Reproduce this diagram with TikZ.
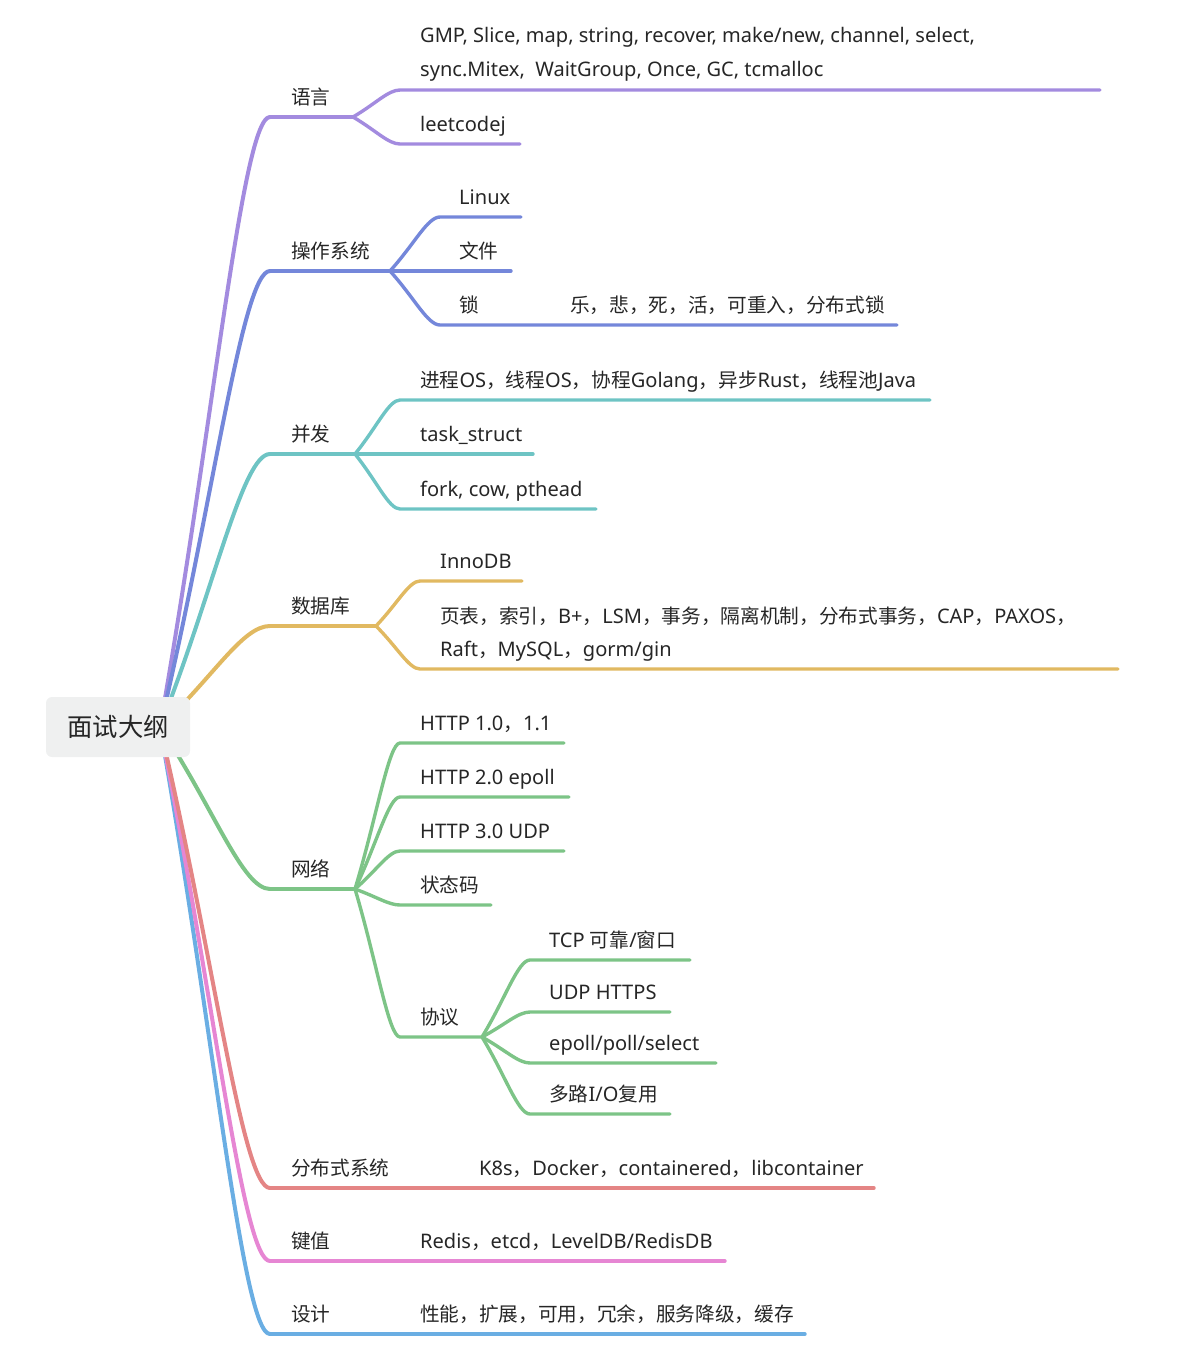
\documentclass[tikz,border=0pt]{standalone}
\usepackage{fontspec}
\setmainfont{Noto Sans}[Scale=1.055]
\newfontfamily\cjkf{Noto Sans CJK SC}[Scale=1.035]
\newfontfamily\latf{Noto Sans}[Scale=1.055]
\XeTeXinterchartokenstate=1
\newXeTeXintercharclass\cjkcls
\count255="3000
\loop
  \XeTeXcharclass\count255=\cjkcls
  \advance\count255 by 1
\ifnum\count255<"A000 \repeat
\count255="FF00
\loop
  \XeTeXcharclass\count255=\cjkcls
  \advance\count255 by 1
\ifnum\count255<"FF60 \repeat
\XeTeXinterchartoks 0 \cjkcls = {\cjkf}
\XeTeXinterchartoks 4095 \cjkcls = {\cjkf}
\XeTeXinterchartoks \cjkcls 0 = {\latf}
\usetikzlibrary{calc}
\pgfdeclarelayer{bg}
\pgfsetlayers{bg,main}
\definecolor{textc}{HTML}{262626}
\definecolor{rootfill}{HTML}{EFF0F0}
\definecolor{cpurple}{HTML}{A38BDF}
\definecolor{cblue}{HTML}{7487DA}
\definecolor{cteal}{HTML}{6EC4C4}
\definecolor{cyellow}{HTML}{E1B961}
\definecolor{cgreen}{HTML}{7DC487}
\definecolor{cred}{HTML}{E48585}
\definecolor{cpink}{HTML}{E686D3}
\definecolor{clblue}{HTML}{6AAEE3}
\tikzset{
  mmcurve/.style={to path={let \p1=(\tikztostart), \p2=(\tikztotarget) in
    .. controls ({\x1+0.49*(\x2-\x1)},{\y1+0.5*(\y2-\y1)}) and ({\x2-0.25*(\x2-\x1)},\y2) .. (\tikztotarget)}},
  branch/.style={line width=3.4pt, line cap=round, line join=round},
  rootlink/.style={line width=4pt, line cap=round, line join=round},
  txt/.style={anchor=base west, inner sep=0pt, text=textc, font=\fontsize{19}{22}\selectfont},
  rootbox/.style={fill=rootfill, rounded corners=6pt, minimum width=144pt, minimum height=60pt, inner sep=0pt, text=textc, font=\fontsize{24.5}{28}\selectfont}
}
\begin{document}
\begin{tikzpicture}[x=1pt,y=-1pt]
\useasboundingbox (0,0) rectangle (1182,1354);
\node[rootbox] (root) at (118,727) {面试大纲};
\coordinate (o) at (160,727);

% level 1 coordinates
\coordinate (L1) at (270,117);  \coordinate (F1) at (353,117);
\coordinate (L2) at (270,271);  \coordinate (F2) at (390,271);
\coordinate (L3) at (270,454);  \coordinate (F3) at (355,454);
\coordinate (L4) at (270,626);  \coordinate (F4) at (376,626);
\coordinate (L5) at (270,889);  \coordinate (F5) at (355,889);
\coordinate (L6) at (270,1188); \coordinate (E6) at (874,1188);
\coordinate (L7) at (270,1261); \coordinate (E7) at (725,1261);
\coordinate (L8) at (270,1334); \coordinate (E8) at (805,1334);

% level 2 coordinates
\coordinate (C11) at (400,90);   \coordinate (E11) at (1100,90);
\coordinate (C12) at (400,144);  \coordinate (E12) at (520,144);
\coordinate (C21) at (440,217);  \coordinate (E21) at (521,217);
\coordinate (E22) at (511,271);
\coordinate (C23) at (440,325);  \coordinate (E23) at (897,325);
\coordinate (C31) at (400,400);  \coordinate (E31) at (930,400);
\coordinate (E32) at (533,454);
\coordinate (C33) at (400,509);  \coordinate (E33) at (596,509);
\coordinate (C41) at (420,581);  \coordinate (E41) at (522,581);
\coordinate (C42) at (420,669);  \coordinate (E42) at (1118,669);
\coordinate (C51) at (400,743);  \coordinate (E51) at (564,743);
\coordinate (C52) at (400,797);  \coordinate (E52) at (569,797);
\coordinate (C53) at (400,851);  \coordinate (E53) at (564,851);
\coordinate (C54) at (400,905);  \coordinate (E54) at (491,905);
\coordinate (C55) at (400,1037); \coordinate (F55) at (482,1037);
\coordinate (C551) at (530,960);  \coordinate (E551) at (690,960);
\coordinate (C552) at (530,1012); \coordinate (E552) at (670,1012);
\coordinate (C553) at (530,1063); \coordinate (E553) at (716,1063);
\coordinate (C554) at (530,1114); \coordinate (E554) at (670,1114);

\begin{pgfonlayer}{bg}
% root links
\draw[rootlink, cpurple] (o) to[mmcurve] (L1);
\draw[rootlink, cblue] (o) to[mmcurve] (L2);
\draw[rootlink, cteal] (o) to[mmcurve] (L3);
\draw[rootlink, cyellow] (o) to[mmcurve] (L4);
\draw[rootlink, cgreen] (o) to[mmcurve] (L5);
\draw[rootlink, clblue] (o) to[mmcurve] (L8);
\draw[rootlink, cpink] (o) to[mmcurve] (L7);
\draw[rootlink, cred] (o) to[mmcurve] (L6);
\end{pgfonlayer}

% 语言
\draw[branch, cpurple] (L1) -- (F1);
\draw[branch, cpurple] (F1) to[mmcurve] (C11) -- (E11);
\draw[branch, cpurple] (F1) to[mmcurve] (C12) -- (E12);
% 操作系统
\draw[branch, cblue] (L2) -- (F2) -- (E22);
\draw[branch, cblue] (F2) to[mmcurve] (C21) -- (E21);
\draw[branch, cblue] (F2) to[mmcurve] (C23) -- (E23);
% 并发
\draw[branch, cteal] (L3) -- (F3) -- (E32);
\draw[branch, cteal] (F3) to[mmcurve] (C31) -- (E31);
\draw[branch, cteal] (F3) to[mmcurve] (C33) -- (E33);
% 数据库
\draw[branch, cyellow] (L4) -- (F4);
\draw[branch, cyellow] (F4) to[mmcurve] (C41) -- (E41);
\draw[branch, cyellow] (F4) to[mmcurve] (C42) -- (E42);
% 网络
\draw[branch, cgreen] (L5) -- (F5);
\draw[branch, cgreen] (F5) to[mmcurve] (C51) -- (E51);
\draw[branch, cgreen] (F5) to[mmcurve] (C52) -- (E52);
\draw[branch, cgreen] (F5) to[mmcurve] (C53) -- (E53);
\draw[branch, cgreen] (F5) to[mmcurve] (C54) -- (E54);
\draw[branch, cgreen] (F5) to[mmcurve] (C55) -- (F55);
\draw[branch, cgreen] (F55) to[mmcurve] (C551) -- (E551);
\draw[branch, cgreen] (F55) to[mmcurve] (C552) -- (E552);
\draw[branch, cgreen] (F55) to[mmcurve] (C553) -- (E553);
\draw[branch, cgreen] (F55) to[mmcurve] (C554) -- (E554);
% others
\draw[branch, cred] (L6) -- (E6);
\draw[branch, cpink] (L7) -- (E7);
\draw[branch, clblue] (L8) -- (E8);

% texts
\node[txt] (t1) at (291,104) {语言};
\node[txt] (t11a) at (420,43) {GMP, Slice, map, string, recover, make/new, channel, select,};
\node[txt] (t11b) at (420,77) {sync.Mitex,\ \ WaitGroup, Once, GC, tcmalloc};
\node[txt] (t12) at (420,131) {leetcodej};

\node[txt] (t2) at (291,258) {操作系统};
\node[txt] (t21) at (459,204) {Linux};
\node[txt] (t22) at (459,258) {文件};
\node[txt] (t23) at (459,312) {锁};
\node[txt] (t231) at (570,312) {乐，悲，死，活，可重入，分布式锁};

\node[txt] (t3) at (291,441) {并发};
\node[txt] (t31) at (420,387) {进程OS，线程OS，协程Golang，异步Rust，线程池Java};
\node[txt] (t32) at (420,441) {task\_struct};
\node[txt] (t33) at (420,496) {fork, cow, pthead};

\node[txt] (t4) at (291,613) {数据库};
\node[txt] (t41) at (440,568) {InnoDB};
\node[txt] (t42a) at (440,623) {页表，索引，B+，LSM，事务，隔离机制，分布式事务，CAP，PAXOS，};
\node[txt] (t42b) at (440,656) {Raft，MySQL，gorm/gin};

\node[txt] (t5) at (291,876) {网络};
\node[txt] (t51) at (420,730) {HTTP 1.0，1.1};
\node[txt] (t52) at (420,784) {HTTP 2.0 epoll};
\node[txt] (t53) at (420,838) {HTTP 3.0 UDP};
\node[txt] (t54) at (420,892) {状态码};
\node[txt] (t55) at (420,1024) {协议};
\node[txt] (t551) at (549,947) {TCP 可靠/窗口};
\node[txt] (t552) at (549,999) {UDP HTTPS};
\node[txt] (t553) at (549,1050) {epoll/poll/select};
\node[txt] (t554) at (549,1101) {多路I/O复用};

\node[txt] (t6) at (291,1175) {分布式系统};
\node[txt] (t61) at (479,1175) {K8s，Docker，containered，libcontainer};
\node[txt] (t7) at (291,1248) {键值};
\node[txt] (t71) at (420,1248) {Redis，etcd，LevelDB/RedisDB};
\node[txt] (t8) at (291,1321) {设计};
\node[txt] (t81) at (420,1321) {性能，扩展，可用，冗余，服务降级，缓存};
\end{tikzpicture}
\end{document}
